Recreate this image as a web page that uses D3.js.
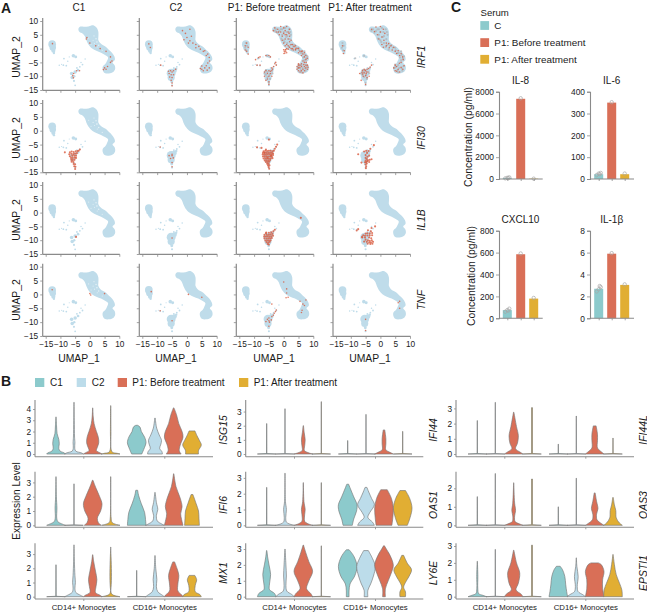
<!DOCTYPE html>
<html><head><meta charset="utf-8">
<script src="https://cdnjs.cloudflare.com/ajax/libs/d3/7.8.5/d3.min.js"></script>
<style>html,body{margin:0;background:#fff}text{font-family:"Liberation Sans",Arial,sans-serif;fill:#1a1a1a}</style>
</head><body><svg id="c" width="647" height="613"></svg>
<script>
// ---------- A: UMAP shape
const umapOutline=[[-3.9,7],[-3.4,7.9],[-2,7.9],[-0.5,8],[0.5,8.4],[1.5,8.3],[2.4,7.5],[2.9,6],[2.9,4.5],[2.9,3],[3.5,2],[4.5,1.2],[5.5,0.6],[6.5,-0.5],[7.5,-1.5],[8.3,-2.8],[8.5,-4],[7.7,-5],[8.4,-6],[8.6,-7.3],[7.9,-8.5],[6.5,-9],[5,-8.8],[4.4,-7.8],[4.4,-6.5],[5.3,-5.5],[5.8,-4.5],[6.2,-3.2],[5.3,-2.4],[3.8,-1.5],[2.2,-0.8],[0.8,0],[-0.5,1.5],[-1.2,3],[-1.7,4.5],[-2.5,5.5],[-3.5,6]];
const umapLeft=[[-12.8,1.6,1.3],[-12.6,0.4,1.1],[-12.4,-0.8,.7],[-12.2,-1.6,.4]];
const umapIslet=[[-5.6,-2.6,.6],[-4.8,-3,.5]];
const umapSpecks=[[-9,-6,.3],[-10.4,-6,.25],[-8,-6.2,.3],[-8.8,-3.6,.3],[-7.5,-4.6,.25],[-2.5,-5.8,.3],[-3,-5,.25],[-1.6,-3.8,.25],[-3.4,-6.6,.3],[-9.6,-5.7,.2],[-7,-3,.2],[-4.4,-7,.3]];
const umapClusterC1=[[-6.2,-9,.6],[-5,-8.5,.6],[-4,-7.8,.45],[-6,-10.5,.6],[-5.3,-10,.4],[-5.4,-11.7,.35],[-5,-13.3,.3]];
const umapClusterFull=[[-5.3,-8.9,1.5],[-5.3,-10.5,1.2],[-4.2,-8,.8],[-5.1,-12,.5],[-5,-13.3,.35],[-3.6,-7.3,.4]];
const umapGapsC1=[[1.4,4.6,.2],[2.1,3.6,.25],[1.1,3,.18],[2.4,2.4,.28],[1.6,1.9,.18],[3,1.2,.25],[0.4,1.6,.18],[2.5,0.6,.18],[4.2,-0.6,.18],[-0.4,3.8,.18]];
const columnTitles=["C1","C2","P1: Before treatment","P1: After treatment"];
const geneRowsA=["IRF1","IFI30","IL1B","TNF"];
const umapTicksX=[-15,-10,-5,0,5,10];
const umapTicksY=[-15,-10,-5,0,5,10];

// ---------- A: cells that express the gene, panel by panel
const irf1C1=[[-1,4],[-1.2,3.5],[2,1],[3.5,0],[5.5,-1],[7,-3],[7.5,-4.5],[5,-7],[5.5,-7.5],[6,-6.5],[-12.7,1.8],[-4.5,-8],[-3.5,-8],[-5.5,-9],[-5.8,-9.8],[7,-5],[0,2],[4.6,-7.6],[-5.6,-10.6]];
const irf1C2=[[-1.5,6.5],[-0.5,5.5],[1,7],[0,4],[-1,3.2],[1.5,4.5],[1,2.8],[2,2],[0.5,2],[3,1.5],[3,0.3],[4,0.8],[4.5,-0.2],[5.5,-1],[6,-0.8],[6.5,-2.5],[7,-2],[7.5,-3.2],[7.6,-4.5],[7,-5.2],[5,-6.3],[5,-7.5],[5.5,-8],[6,-7],[6.5,-6.2],[6.8,-7.8],[7.5,-7],[4.5,-7.2],[-12.8,1.7],[-12.3,0.4],[-5.5,-8],[-5,-8.5],[-4.5,-8],[-6,-9],[-5.3,-9.5],[-4.5,-9.5],[-5.8,-10.3],[-5,-10.5],[-5.3,-11.5],[-5,-12.5],[-5,-13.5],[-3.8,-7.5],[-8.8,-6],[-6.2,-8.2]];
const irf1Before=[[-3.5,6.5],[-3,7.5],[-2.5,6],[-2,7],[-1.5,5],[-1,8],[-1,6],[-0.5,4.5],[0,7.5],[0,5.5],[0.5,6.5],[0.5,3.5],[1,8],[1,5],[1.5,6],[1.5,3.5],[2,7],[2,4.5],[2,2.5],[-0.5,3],[0,2],[0.5,1],[1,1.5],[1,0],[0.5,-0.5],[0.2,-1],[0.7,-1],[0.4,-1.6],[0,-0.4],[1,-1.5],[0.1,-1.8],[0.7,-0.3],[1.5,1],[2,0.5],[2.5,1.5],[3,0],[3,1.5],[3.5,0.7],[4,-0.5],[4,1],[4.5,0],[5,-1.5],[5,0],[5.5,-1],[6,-2.5],[6,-1],[6.5,-2],[7,-3],[7,-1.5],[7.5,-2.5],[8,-3.5],[7.5,-4],[7,-5],[7.6,-5],[6.5,-4.5],[6,-5.5],[5,-6],[4.5,-6.5],[4.5,-7.5],[5,-8],[5.5,-7],[6,-6.5],[6,-8],[6.5,-7.5],[7,-6.5],[7,-8],[7.5,-7],[8,-6],[8,-7.5],[5.5,-8.5],[6.5,-8.8],[5,-5.5],[6.8,-5.8],[5.5,-6],[7.5,-6],[5,-7],[8.2,-6.8],[4,-0.2],[3.3,-0.5],[2.5,0],[6.3,-0.9],[1.5,-0.2],[2.5,3],[0.5,5],[-1.8,6],[1.8,5.5],[-12.5,2],[-13,1],[-12,0.5],[-12.5,-1],[-12,-2],[-13,-0.5],[-8,-3],[-8.5,-3.2],[-9.5,-4],[-5,-2.5],[-6,-2.5],[-4.5,-3],[-9,-6],[-8,-6],[-2.5,-6],[-3,-5.5],[-2.7,-5],[-3.4,-6.5],[-4,-7],[-5,-8],[-4,-8],[-6,-8],[-5.5,-9],[-4.5,-9],[-6.5,-10],[-5,-10],[-4,-10],[-5.5,-11],[-5,-12],[-5,-13],[-6.5,-8.5],[-6,-11.5],[-3.8,-7.5],[-4.5,-8.2]];
const irf1After=[[-3,7],[-2,6.2],[-1.5,7.8],[-1,5],[0,8],[0,6],[0.5,4.2],[1,7],[1.5,5.5],[1.2,3],[2,2],[-0.5,3.5],[0.5,1.5],[1,0.5],[2,1],[2.8,1.8],[3,0.3],[3.6,1],[4,-0.5],[4.5,0.5],[5,-1],[5.5,-1.8],[6,-0.8],[6.5,-2.5],[7,-1.8],[7.5,-3],[7.7,-4],[7,-5],[6.4,-5.3],[5,-6],[4.5,-7],[5,-8],[5.5,-6.5],[6,-7.5],[6.5,-8.5],[7,-6.8],[7.6,-7.5],[8,-6.2],[5.5,-8.2],[-12.8,1],[-12.2,-0.8],[-12.5,-1.8],[-7,-9],[-6,-8],[-5.5,-7.5],[-5,-8],[-4.5,-7.5],[-4,-7.2],[-3.5,-6.8],[-3,-6],[-5.5,-8.8],[-4.8,-9],[-6,-9.2],[-5,-9.8],[-5.8,-10],[-4.5,-10.5],[-6.5,-11.5],[-3.8,-10],[-5,-13],[-4.2,-8.5],[-5.2,-7.8],[-4.7,-8.5],[-6.2,-8.6]];
const ifi30C1=[[-6.8,-7.8],[-6.2,-7.5],[-5.5,-7.7],[-4.8,-7.4],[-4.2,-7.3],[-3.8,-7.2],[-7,-8.5],[-6.3,-8.3],[-5.6,-8.4],[-5,-8.2],[-4.4,-8.1],[-6.8,-9.2],[-6,-9],[-5.3,-9],[-4.7,-9],[-6.4,-9.8],[-5.8,-9.8],[-5.1,-9.7],[-6.3,-10.5],[-5.8,-10.6],[-5.2,-10.5],[-6.2,-11.2],[-5.6,-11.3],[-5.5,-12],[-5,-12.1],[-5.3,-12.8],[-4.9,-13],[-5,-13.8],[-8.5,-7.8],[-4.7,-9.8],[-3.4,-6.8]];
const ifi30C2=[[-9,-5.9],[-5,-9],[-5.5,-10],[-5,-11.5],[-5,-13],[-6,-9],[-5,-8.5],[-4.6,-9.8]];
const ifi30Before=[[-6.8,-7.4],[-6.2,-7.2],[-5.6,-7.3],[-5,-7.2],[-4.4,-7.2],[-3.8,-7.4],[-7,-8],[-6.4,-8],[-5.8,-8],[-5.2,-8],[-4.6,-8],[-4,-8],[-3.6,-8.2],[-7.1,-8.6],[-6.6,-8.7],[-6,-8.7],[-5.4,-8.6],[-4.8,-8.6],[-4.2,-8.7],[-3.6,-8.8],[-7,-9.3],[-6.4,-9.4],[-5.8,-9.3],[-5.2,-9.3],[-4.6,-9.3],[-4,-9.4],[-6.8,-10],[-6.2,-10],[-5.6,-10],[-5,-10],[-4.4,-10],[-3.8,-9.9],[-6.4,-10.7],[-5.8,-10.7],[-5.2,-10.7],[-4.6,-10.6],[-6,-11.3],[-5.4,-11.3],[-4.9,-11.2],[-5.6,-11.9],[-5.1,-11.9],[-5.3,-12.5],[-4.8,-12.5],[-5.1,-13.1],[-4.9,-13.7],[-3.3,-7.2],[-3,-6.5],[-2.6,-5.8],[-2.2,-5],[-7.5,-6.2],[-9,-6],[-5,-3.2],[-6,-6.8],[-6.5,-7.9],[-5.5,-9.7],[-4.3,-9]];
const ifi30After=[[-5.5,-7.5],[-4.8,-7.2],[-4,-7.3],[-3.4,-6.5],[-2.2,-5.2],[-4.5,-8],[-5,-8.8],[-4.4,-9.4],[-3.8,-9],[-5,-9.8],[-4.6,-10.2],[-5,-10.8],[-4.5,-11],[-3.6,-10.5],[-3,-10.3],[-5.2,-11.4],[-4.6,-11.8],[-3.8,-11.3],[-5,-12.2],[-4.8,-12.8],[-4.9,-13.5],[-7.5,-8.5],[-6.4,-11.5],[-4.2,-10.7],[-4.8,-11.4]];
const il1bC1=[[-4.7,-8.8]];
const il1bC2=[[-5,-9.2]];
const il1bBefore=[[-6,-7.5],[-5,-7.3],[-4.2,-7.1],[-3.5,-6.8],[-3,-6.2],[-6.5,-8],[-5.7,-8],[-5,-8],[-4.4,-7.9],[-3.8,-7.7],[-6.6,-8.7],[-6,-8.7],[-5.4,-8.6],[-4.8,-8.7],[-4.2,-8.6],[-3.6,-8.4],[-6.5,-9.4],[-5.8,-9.4],[-5.2,-9.3],[-4.6,-9.3],[-4,-9.2],[-6.2,-10.1],[-5.6,-10],[-5,-10],[-4.4,-10],[-5.8,-10.7],[-5.2,-10.8],[-4.7,-10.6],[-5.4,-11.4],[-5,-11.6],[5.8,-1.9],[-5.9,-7.2]];
const il1bAfter=[[-4.2,-6.4],[-3.2,-6.8],[-1.8,-5],[-3,-5.6],[-5,-7.6],[-4.4,-7.5],[-3.6,-7.6],[-2.8,-7.4],[-5.8,-8.2],[-5.2,-8.4],[-4.4,-8.3],[-3.6,-8.3],[-2.8,-8.2],[-6.1,-9],[-5.2,-9],[-3.8,-9],[-3.1,-9.3],[-5,-9.8],[-4.2,-10],[-3.6,-10.2],[-2.9,-10],[-4.6,-10.6],[-3.8,-10.8],[-3.2,-10.8],[-2.5,-10.6],[-4.3,-11.3],[-3.4,-11.4],[-2.7,-11.3],[-8,-6.5],[-7.5,-6],[-6.2,-8.8],[-5.5,-10.5]];
const tnfC1=[[-12.8,1.7],[0,0.3],[0.3,-0.2],[5,0.3]];
const tnfC2=[[-9,-5.9],[0.5,0],[5,-1],[-12,1],[-5,-9.5]];
const tnfBefore=[[-4,-3.5],[-2.8,-6.2],[-3.2,-6.8],[-2.5,-5.6],[-5,-8.5],[-5.5,-9],[-4.8,-10],[-4,-8],[-3.5,-7.5],[-5,-9.5],[-4.2,-9.2],[-6,-9.8],[-5,-11.5],[0,4.5],[1,2],[1.5,-1],[0.8,-1.2],[5.5,-2.5],[7.5,-2],[6,-6.5],[7,-4],[6.5,-3.5],[1,0.5],[6.2,-5.7]];
const tnfAfter=[[6.5,-2.5],[6.5,-5],[-5,-9],[-5,-13],[6,-3]];
const panelReds=[[irf1C1,irf1C2,irf1Before,irf1After],[ifi30C1,ifi30C2,ifi30Before,ifi30After],[il1bC1,il1bC2,il1bBefore,il1bAfter],[tnfC1,tnfC2,tnfBefore,tnfAfter]];
// cells with a weak signal in the IRF1 panels (grey-blue)
const irf1Weak=[[-2.5,7],[-1.5,6.3],[-0.5,7],[0.5,7.5],[0,6],[1,6],[1.2,4.5],[-0.5,5],[0,3],[1.2,2],[2.3,1.3],[3.2,0.9],[4.2,0.3],[5.2,-0.6],[6.2,-1.6],[7.2,-2.3],[7.6,-3.5],[7,-4.2],[6,-6],[5.2,-6.6],[6.4,-7],[7.2,-7.2],[5.8,-7.8],[-12.8,2],[-12.4,1],[-13,0.3],[-12.6,-0.6],[-8.5,-3.5],[-5.5,-2.6],[-5.5,-8.5],[-4.8,-9.5],[-5.5,-10.3],[-4.6,-11],[-5,-12.5],[-6,-9.5],[-3,6.5],[-2,5.8],[-1,7],[1.8,7],[2.2,6],[2.4,5],[2,3.4],[0.8,4.2],[-0.8,3.6],[0.3,2.4],[1.8,0.6],[2.8,-0.4],[3.7,1.3],[5,0.3],[5.8,-1.6],[7,-1],[8,-2.8],[6.6,-3.2],[7.8,-6.4],[5,-5.8],[6,-8.6],[7.4,-8],[4.8,-7],[-3.8,-9],[-6.4,-9],[-6,-7.8]];

// ---------- B: violins, each a list of [expression level, width share]
const violinGroups=["C1","C2","P1: Before treatment","P1: After treatment"];
const cellTypes=["CD14+ Monocytes","CD16+ Monocytes"];
const isg15=[[[0,1],[.1,.9],[.25,.45],[.5,.3],[.9,.35],[1.3,.3],[1.8,.12],[2.5,.06],[3.3,.01]],[[0,1],[.1,.8],[.25,.2],[.5,.08],[1,.1],[1.5,.06],[3,.03],[4.6,.01]],[[0,1],[.1,.8],[.3,.4],[.6,.5],[1,.65],[1.5,.6],[2,.4],[2.7,.15],[3.3,.06],[4.1,.01]],[[0,1],[.06,.7],[.15,.2],[.4,.05],[2,.03],[4.3,.01]],[[0,.55],[.2,.65],[.6,.85],[1,1],[1.5,.85],[2,.5],[2.4,.35],[2.55,.1]],[[0,.8],[.2,.75],[.5,.5],[.8,.6],[1.2,.7],[1.7,.45],[2.3,.18],[3.2,.02]],[[0,.8],[.3,.6],[.8,.7],[1.5,1],[2,.9],[2.7,.55],[3.5,.3],[4.1,.03]],[[0,.7],[.3,.7],[.8,1],[1.2,.8],[1.6,.55],[2.05,.32]]];
const ifi6=[[[0,1],[.08,.7],[.25,.2],[.5,.08],[1.2,.1],[2,.04],[3.4,.01]],[[0,1],[.03,.02],[2.9,.01]],[[0,.9],[.2,.6],[.5,.5],[1,.85],[1.5,1],[2,.75],[2.6,.35],[3.15,.03]],[[0,1],[.08,.5],[.2,.15],[.5,.05],[3.4,.01]],[[0,1],[.4,.95],[.9,.85],[1.5,.5],[2.1,.2],[2.45,.1]],[[0,1],[.1,.7],[.3,.25],[.7,.15],[1.1,.3],[1.6,.15],[2.3,.02]],[[0,1],[.4,.85],[.8,.75],[1.3,.9],[1.9,.7],[2.7,.25],[3.6,.02]],[[0,.8],[.5,.75],[1,.7],[1.5,.45],[2.15,.1]]];
const mx1=[[[0,1],[.03,.02],[2.25,.01]],[[0,1],[.1,.7],[.3,.2],[.6,.1],[1,.15],[1.5,.1],[2.5,.04],[3.65,.01]],[[0,1],[.1,.8],[.3,.3],[.7,.35],[1.2,.45],[1.8,.3],[2.5,.1],[2.95,.02]],[[0,1],[.07,.5],[.2,.1],[3.5,.01]],[[0,1],[.03,.02],[1.85,.01]],[[0,1],[.1,.8],[.35,.3],[.7,.15],[1.2,.2],[2,.08],[2.9,.01]],[[0,1],[.1,.9],[.4,.45],[.9,.45],[1.5,.55],[2,.35],[2.45,.1]],[[0,1],[.15,.85],[.35,.35],[.8,.35],[1.2,.5],[1.5,.3]]];
const ifi44=[[[0,1],[.03,.02],[2.15,.01]],[[0,1],[.03,.02],[3.2,.01]],[[0,1],[.1,.5],[.25,.12],[.6,.15],[1,.2],[1.5,.1],[2,.02]],[[0,1],[.03,.02],[3.7,.01]],[[0,1],[.03,.02],[.95,.01]],[[0,1],[.03,.02],[2.8,.01]],[[0,1],[.1,.7],[.3,.2],[.7,.2],[1.1,.2],[1.7,.08]],[[0,1],[.03,.02],[1.6,.01]]];
const oas1=[[[0,1],[.03,.02],[2.4,.01]],[[0,1],[.08,.5],[.2,.15],[.5,.08],[1,.15],[1.5,.05],[3.3,.01]],[[0,1],[.1,.5],[.25,.15],[.7,.15],[1,.2],[1.5,.07],[2.7,.01]],[[0,1],[.03,.02],[2.7,.01]],[[0,.5],[.4,.65],[.9,.95],[1.3,1],[1.8,.65],[2.3,.3],[2.6,.1]],[[0,.9],[.2,.7],[.5,.2],[.8,.4],[1.3,.9],[1.7,.6],[2.1,.3],[2.4,.1]],[[0,.85],[.5,.95],[1.1,1],[1.7,.8],[2.25,.35]],[[0,.5],[.5,.8],[1.1,1],[1.7,.75],[2.2,.3]]];
const ly6e=[[[0,1],[.2,.85],[.45,.3],[.8,.3],[1.4,.42],[2,.25],[2.5,.1],[2.9,.02]],[[0,1],[.15,.7],[.35,.2],[.7,.1],[1.3,.15],[2,.1],[3,.01]],[[0,1],[.2,.8],[.5,.35],[1,.6],[1.6,1],[2.2,.6],[2.8,.25],[3.25,.02]],[[0,1],[.03,.02],[3.2,.01]],[[0,.15],[.4,.15],[.8,.25],[1.3,.75],[1.9,1],[2.5,.7],[2.85,.3],[2.95,.15]],[[0,.2],[.4,.2],[.8,.5],[1.3,.8],[1.9,1],[2.4,.7],[2.9,.25]],[[0,.15],[.5,.15],[1,.45],[1.6,.85],[2,1],[2.6,.65],[3,.25],[3.2,.05]],[[0,.3],[.3,.3],[.6,.1],[.9,.3],[1.3,.7],[1.7,.95],[2.1,.5],[2.6,.1]]];
const ifi44l=[[[0,1],[.03,.02],[2.2,.01]],[[0,1],[.03,.02],[3.4,.01]],[[0,1],[.12,.7],[.35,.2],[.7,.4],[1.2,.5],[1.8,.3],[2.75,.02]],[[0,1],[.03,.05],[3.05,.05]],[[0,1],[.03,.02],[.65,.01]],[[0,1],[.03,.02],[2.5,.01]],[[0,1],[.15,.7],[.4,.3],[.9,.3],[1.3,.3],[1.85,.15]],[[0,1],[.03,.02],[1.05,.01]]];
const oas3=[[[0,1],[.03,.02],[1.55,.01]],[[0,1],[.03,.02],[2.8,.01]],[[0,1],[.08,.6],[.2,.15],[.5,.1],[.8,.2],[1.2,.1],[2.3,.01]],[[0,1],[.03,.05],[2.5,.05]],[[0,1],[.03,.02],[1,.01]],[[0,1],[.03,.02],[2.55,.01]],[[0,1],[.1,.7],[.3,.25],[.6,.2],[.9,.35],[1.3,.2],[1.75,.05]],[[0,1],[.12,.7],[.4,.35],[.8,.3],[1.1,.15],[1.5,.03]]];
const epsti1=[[[0,1],[.08,.6],[.18,.15],[.5,.05],[1.2,.06],[2.1,.01]],[[0,1],[.03,.02],[2.8,.01]],[[0,1],[.15,.8],[.4,.25],[.8,.5],[1.4,.65],[2,.3],[2.75,.02]],[[0,1],[.03,.05],[3.05,.05]],[[0,1],[.3,.9],[.7,.8],[1.2,.7],[1.6,.45],[1.8,.2]],[[0,1],[.12,.7],[.3,.2],[.6,.1],[1.2,.2],[1.8,.06],[2.3,.01]],[[0,1],[.5,.85],[1,.85],[1.5,1],[1.9,.7],[2,.4]],[[0,1],[.4,.95],[.8,.7],[1.3,.35],[1.9,.15],[2.5,.01]]];

// ---------- C: serum cytokines
const serumGroups=["C","P1: Before treatment","P1: After treatment"];
const il8Bars=[100,7350,30], il8Dots=[[0,60],[0,110],[0,150],[0,90],[1,7400],[2,30]], il8Ticks=[0,2000,4000,6000,8000];
const il6Bars=[22,350,22], il6Dots=[[0,18],[0,25],[0,28],[0,22],[1,352],[2,25]], il6Ticks=[0,100,200,300,400];
const cxcl10Bars=[75,585,180], cxcl10Dots=[[0,60],[0,75],[0,88],[0,70],[1,592],[2,186]], cxcl10Ticks=[0,200,400,600,800];
const il1bBars=[2.7,5.9,3.05], il1bDots=[[0,2.45],[0,2.65],[0,2.85],[0,2.95],[1,5.95],[2,3.1]], il1bTicks=[0,2,4,6,8];

// ---------- drawing
const svg=d3.select("#c");
const COL={teal:"#8ccacc",blue:"#bcdcea",red:"#d96f57",gold:"#e1ae33",axis:"#8a8a8a",umap:"#bfdcea",hot:"#d8593c"};
const FONT='"Liberation Sans",Arial,sans-serif';
function text(x,y,s,size,o={}){const t=svg.append("text").attr("x",x).attr("y",y).attr("font-size",size).attr("text-anchor",o.anchor||"middle").attr("dominant-baseline","central").attr("font-style",o.italic?"italic":null).attr("font-weight",o.bold?"bold":null).text(s);if(o.rot)t.attr("transform",`rotate(${o.rot} ${x} ${y})`);return t;}
function styleAxis(g,sw){g.selectAll(".domain").attr("stroke",COL.axis).attr("stroke-width",sw);g.selectAll(".tick line").attr("stroke",COL.axis).attr("stroke-width",.8);g.selectAll(".tick text").attr("font-family",FONT).attr("fill","#1a1a1a");}

text(1,8,"A",14,{anchor:"start",bold:true});
text(1,381,"B",14,{anchor:"start",bold:true});
text(451,7,"C",14,{anchor:"start",bold:true});

// ---- A
const colX=[[45.7,119.3],[142.3,216.7],[239.3,313.3],[336,410]];
const rowY=[[21,90],[103,172.3],[185,254],[266.7,336]];
const titleX=[79,176,274,370];
columnTitles.forEach((t,i)=>text(titleX[i],7,t,10));
const geneY=[57,138,220,300];
rowY.forEach((ry,r)=>{
  colX.forEach((cx,c)=>{
    const x=d3.scaleLinear().domain([-15,10]).range(cx);
    const y=d3.scaleLinear().domain([-15,10]).range([ry[1],ry[0]]);
    const k=x(1)-x(0);
    const g=svg.append("g");
    g.append("path").attr("d",d3.line().x(d=>x(d[0])).y(d=>y(d[1])).curve(d3.curveCatmullRomClosed)(umapOutline)).attr("fill",COL.umap);
    const shape=[].concat(umapLeft,umapIslet,umapSpecks,c===0?umapClusterC1:umapClusterFull);
    g.selectAll("circle.b").data(shape).join("circle").attr("cx",d=>x(d[0])).attr("cy",d=>y(d[1])).attr("r",d=>d[2]*k).attr("fill",COL.umap);
    if(c===0)g.selectAll("circle.g").data(umapGapsC1).join("circle").attr("cx",d=>x(d[0])).attr("cy",d=>y(d[1])).attr("r",d=>d[2]*k).attr("fill","#fff").attr("fill-opacity",.6);
    if(r===0&&c>=2)g.selectAll("circle.w").data(irf1Weak).join("circle").attr("cx",d=>x(d[0])).attr("cy",d=>y(d[1])).attr("r",1.1).attr("fill","#b3b6ba").attr("fill-opacity",.8);
    const dotR=(r===1||r===2)&&c!==1?1.05:.8;
    g.selectAll("circle.h").data(panelReds[r][c]).join("circle").attr("cx",d=>x(d[0])).attr("cy",d=>y(d[1])).attr("r",dotR).attr("fill",COL.hot).attr("fill-opacity",.8);
    const axY=d3.axisLeft(y).tickValues(umapTicksY).tickSize(2.5).tickPadding(2).tickFormat(c===0?(d=>d<0?"\u2212"+(-d):d):"");
    const gy=svg.append("g").attr("transform",`translate(${cx[0]-3},0)`).call(axY).attr("font-size",8.3);
    styleAxis(gy,1.2);
    gy.select(".domain").attr("d",`M0,${ry[0]-3}V${ry[1]+.3}`);
    const axX=d3.axisBottom(x).tickValues(umapTicksX).tickSize(2.5).tickPadding(2).tickFormat(r===3?(d=>d<0?"\u2212"+(-d):d):"");
    const gx=svg.append("g").attr("transform",`translate(0,${ry[1]+.3})`).call(axX).attr("font-size",8.3);
    styleAxis(gx,1.2);
    gx.select(".domain").attr("d",`M${cx[0]-3},0H${cx[1]+.5}`);
  });
  text(16,geneY[r],"UMAP_2",10.4,{rot:-90});
  text(421,geneY[r],geneRowsA[r],10.4,{rot:-90,italic:true});
});
titleX.forEach(xx=>text(xx,358,"UMAP_1",10.4));

// ---- B legend
const legB=[[35,50],[76.7,91.7],[117.7,132.3],[239,253.7]];
const vColors=[COL.teal,COL.blue,COL.red,COL.gold];
violinGroups.forEach((t,i)=>{
  svg.append("rect").attr("x",legB[i][0]).attr("y",378).attr("width",9.3).attr("height",9).attr("fill",vColors[i]);
  text(legB[i][1],382.6,t,10,{anchor:"start"});
});
// ---- B panels
const vCols=[
 {ax:35,right:213,centers:[56,74,92.7,110.7,136.7,155,173.7,192],ticks:[83.3,164.3],nameX:223},
 {ax:245.7,right:423.3,centers:[266.7,285,303.3,321.3,347.7,366,384,402.7],ticks:[294,375],nameX:433},
 {ax:456,right:634,centers:[477.3,495.3,513.7,532,558.3,576.3,594.7,613],ticks:[504.3,585.3],nameX:643}];
const vRows=[{top:400,bottom:456.7,zero:454,nameY:430},{top:471.7,bottom:527.3,zero:525.3,nameY:505},{top:543.3,bottom:599,zero:596.7,nameY:573}];
const vPanels=[
 [{g:"ISG15",d:isg15,t:[0,1,2,3,4],one:11.25},{g:"IFI44",d:ifi44,t:[0,1,2,3],one:14.15},{g:"IFI44L",d:ifi44l,t:[0,1,2,3],one:15.2}],
 [{g:"IFI6",d:ifi6,t:[0,1,2,3],one:14.3},{g:"OAS1",d:oas1,t:[0,1,2,3],one:15.8},{g:"OAS3",d:oas3,t:[0,1,2],one:18.5}],
 [{g:"MX1",d:mx1,t:[0,1,2,3],one:14.2},{g:"LY6E",d:ly6e,t:[0,1,2,3],one:15.9},{g:"EPSTI1",d:epsti1,t:[0,1,2,3],one:16.9}]];
vPanels.forEach((row,r)=>row.forEach((p,c)=>{
  const R=vRows[r],C=vCols[c];
  const y=d3.scaleLinear().domain([0,1]).range([R.zero,R.zero-p.one]);
  const w=d3.scaleLinear().domain([0,1]).range([0,9.3]);
  p.d.forEach((v,i)=>{
    const cx=C.centers[i];
    const area=d3.area().y(d=>y(d[0])).x0(d=>cx-w(d[1])).x1(d=>cx+w(d[1])).curve(v.length<=3?d3.curveLinear:d3.curveCatmullRom.alpha(.5));
    svg.append("path").attr("d",area(v)).attr("fill",vColors[i%4]).attr("stroke","#777").attr("stroke-width",.65).attr("stroke-linejoin","round");
  });
  const gy=svg.append("g").attr("transform",`translate(${C.ax},0)`).call(d3.axisLeft(y).tickValues(p.t).tickSize(2).tickPadding(2).tickFormat(d3.format("d"))).attr("font-size",8.3);
  styleAxis(gy,1.1);
  gy.select(".domain").attr("d",`M0,${R.top}V${R.bottom}`);
  const x=d3.scaleOrdinal().domain(cellTypes).range(C.ticks);
  const gx=svg.append("g").attr("transform",`translate(0,${R.bottom})`).call(d3.axisBottom(x).tickSize(2).tickPadding(3).tickFormat(r===2?(d=>d):"")).attr("font-size",7.8);
  styleAxis(gx,1.1);
  gx.select(".domain").attr("d",`M${C.ax},0H${C.right}`);
  text(C.nameX,R.nameY,p.g,10.4,{rot:-90,italic:true});
}));
text(16,501,"Expression Level",10.2,{rot:-90});

// ---- C legend
text(480.5,12,"Serum",9.6,{anchor:"start"});
const barColors=[COL.teal,COL.red,COL.gold];
[25.5,42.6,59.3].forEach((yy,i)=>{
  svg.append("rect").attr("x",480.3).attr("y",yy-4.4).attr("width",8.8).attr("height",8.8).attr("fill",barColors[i]);
  text(494.3,yy,serumGroups[i],9.9,{anchor:"start"});
});
// ---- C bars
const barPanels=[
 {t:"IL-8",b:il8Bars,d:il8Dots,k:il8Ticks,ax:499,right:542.7,cs:[507.3,520.7,533.7],top:91.7,bot:179,ty:80},
 {t:"IL-6",b:il6Bars,d:il6Dots,k:il6Ticks,ax:590,right:634,cs:[598.7,611.7,624.7],top:91.7,bot:179,ty:80},
 {t:"CXCL10",b:cxcl10Bars,d:cxcl10Dots,k:cxcl10Ticks,ax:499,right:542.7,cs:[507.3,520.7,533.7],top:230.7,bot:318.3,ty:219.3},
 {t:"IL-1\u03b2",b:il1bBars,d:il1bDots,k:il1bTicks,ax:590,right:634,cs:[598.7,611.7,624.7],top:230.7,bot:318.3,ty:219.3}];
barPanels.forEach(p=>{
  const y=d3.scaleLinear().domain([0,p.k[p.k.length-1]]).range([p.bot,p.top]);
  const x=d3.scaleOrdinal().domain([0,1,2]).range(p.cs);
  svg.selectAll(null).data(p.b).join("rect").attr("x",(d,i)=>x(i)-4.5).attr("width",9).attr("y",d=>y(d)).attr("height",d=>p.bot-y(d)).attr("fill",(d,i)=>barColors[i]);
  svg.selectAll(null).data(p.d).join("circle").attr("cx",(d,i)=>x(d[0])+[-2,0,2,1,0,0][i]).attr("cy",d=>y(d[1])).attr("r",1.7).attr("fill","none").attr("stroke","#a8a8a8").attr("stroke-width",.7);
  const gy=svg.append("g").attr("transform",`translate(${p.ax},0)`).call(d3.axisLeft(y).tickValues(p.k).tickSize(3).tickPadding(2).tickFormat(d3.format("d"))).attr("font-size",8.4);
  styleAxis(gy,1.1);
  const gx=svg.append("g").attr("transform",`translate(0,${p.bot})`).call(d3.axisBottom(x).tickSize(2).tickFormat("")).attr("font-size",8);
  styleAxis(gx,1.1);
  gx.select(".domain").attr("d",`M${p.ax},0H${p.right}`);
  text((p.cs[0]+p.cs[2])/2,p.ty,p.t,10);
});
text(468,137,"Concentration (pg/ml)",10.4,{rot:-90});
text(471,276,"Concentration (pg/ml)",10.4,{rot:-90});
</script></body></html>
